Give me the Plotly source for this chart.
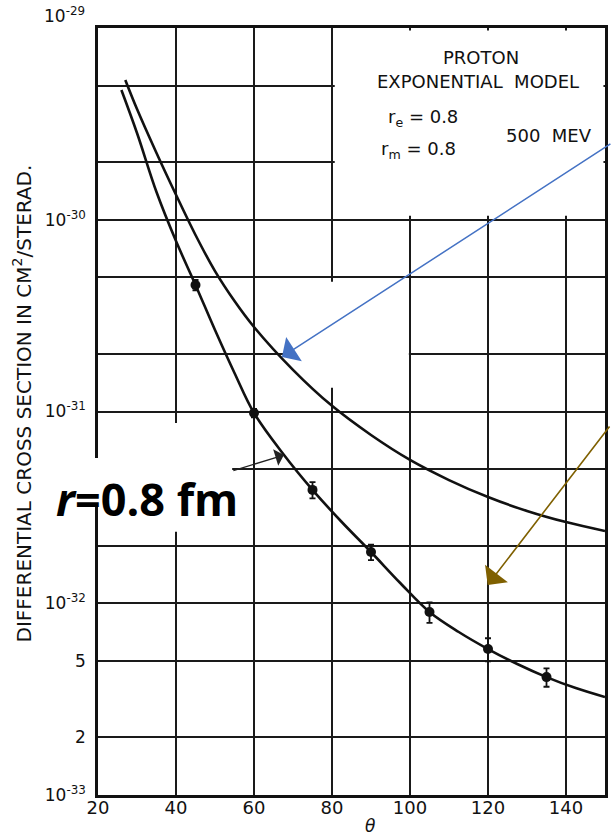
import plotly.graph_objects as go

# Measured elastic cross sections (500 MeV), with statistical errors
theta_data = [45, 60, 75, 90, 105, 120, 135]
sigma_data = [4.57e-31, 9.82e-32, 3.90e-32, 1.85e-32, 9.00e-33, 5.77e-33, 4.12e-33]
sigma_err = [0.28e-31, 0.50e-32, 0.38e-32, 0.17e-32, 1.10e-33, 0.80e-33, 0.45e-33]

# Exponential model, r_e = r_m = 0.8 fm
theta_fit = [26, 30, 35, 40, 45, 50, 55, 60, 67.5, 75, 82.5, 90, 97.5, 105,
             112.5, 120, 127.5, 135, 142.5, 150]
sigma_fit = [4.75e-30, 2.835e-30, 1.395e-30, 7.74e-31, 4.57e-31, 2.66e-31,
             1.588e-31, 9.82e-32, 6.00e-32, 3.90e-32, 2.653e-32, 1.85e-32,
             1.275e-32, 9.00e-33, 7.08e-33, 5.77e-33, 4.82e-33, 4.12e-33,
             3.61e-33, 3.24e-33]

# Point-charge curve
theta_point = [27, 30, 35, 40, 45, 50, 55, 60, 70, 80, 90, 100, 110, 120,
               130, 140, 150]
sigma_point = [5.36e-30, 3.78e-30, 2.23e-30, 1.35e-30, 8.33e-31, 5.40e-31,
               3.77e-31, 2.76e-31, 1.65e-31, 1.07e-31, 7.54e-32, 5.59e-32,
               4.39e-32, 3.58e-32, 3.03e-32, 2.65e-32, 2.38e-32]

x_ticks = [20, 40, 60, 80, 100, 120, 140]
y_ticks = [1e-33, 2e-33, 5e-33, 1e-32, 2e-32, 5e-32, 1e-31, 2e-31, 5e-31,
           1e-30, 2e-30, 5e-30, 1e-29]
y_ticktext = ["10<sup>-33</sup>", "2", "5", "10<sup>-32</sup>", "", "",
              "10<sup>-31</sup>", "", "", "10<sup>-30</sup>", "", "", ""]

W, H = 613, 839
L, R, T, B = 98, 5, 28, 44


def px(x):
    return (x - L) / (W - L - R)


def py(y):
    return (H - B - y) / (H - T - B)


FONT = "DejaVu Sans"
INK = "#111111"

fig = go.Figure()

fig.add_trace(go.Scatter(
    x=theta_point, y=sigma_point, mode="lines",
    line=dict(color=INK, width=2.6, shape="spline", smoothing=1.0),
    hoverinfo="skip"))

fig.add_trace(go.Scatter(
    x=theta_fit, y=sigma_fit, mode="lines",
    line=dict(color=INK, width=2.6, shape="spline", smoothing=1.0),
    hoverinfo="skip"))

fig.add_trace(go.Scatter(
    x=theta_data, y=sigma_data, mode="markers",
    marker=dict(color=INK, size=10, symbol="circle"),
    error_y=dict(type="data", array=sigma_err, visible=True,
                 color=INK, thickness=1.8, width=3)))

grid = dict(showgrid=True, gridcolor="#1a1a1a", gridwidth=2.2,
            showline=True, linecolor="#111111", linewidth=2.6, mirror=True,
            ticks="", zeroline=False)

fig.update_xaxes(range=[20, 150], tickvals=x_ticks,
                 ticktext=[str(v) for v in x_ticks],
                 tickfont=dict(family=FONT, size=18, color=INK),
                 ticklabelstandoff=-5, **grid)
fig.update_yaxes(type="log", range=[-33, -29], tickvals=y_ticks,
                 ticktext=y_ticktext,
                 tickfont=dict(family=FONT, size=17, color=INK),
                 ticklabelstandoff=6, **grid)

blank = dict(type="rect", xref="x", yref="y", layer="between",
             fillcolor="white", line=dict(width=0))
shapes = [
    # frame for the model description
    dict(blank, x0=80.7, x1=149.6, y0=1.05e-30, y1=9.7e-30),
    dict(blank, x0=70.8, x1=99.7, y0=1.33e-31, y1=4.75e-31),
    dict(blank, x0=20.5, x1=54.4, y0=2.36e-32, y1=8.71e-32),
    dict(type="rect", xref="paper", yref="paper", x0=px(88), x1=px(104),
         y0=py(506), y1=py(458), layer="above",
         fillcolor="white", line=dict(width=0)),
]

ann = []


def text(x, y, s, size=17, family=FONT, **kw):
    ann.append(dict(x=px(x), y=py(y), xref="paper", yref="paper", text=s,
                    xanchor="center", yanchor="middle",
                    showarrow=False, font=dict(family=family, size=size,
                                               color=INK), **kw))


text(22, 403, "DIFFERENTIAL CROSS SECTION IN CM<sup>2</sup>/STERAD.",
     size=20, textangle=-90)
text(372, 826, "<i>θ</i>", size=17)
text(64, 15, "10<sup>-29</sup>", size=17)
text(483, 57, "PROTON", size=18)
text(480, 82, "EXPONENTIAL  MODEL", size=18)
text(425, 118, "r<sub>e</sub> = 0.8", size=18)
text(420, 150, "r<sub>m</sub> = 0.8", size=18)
text(552, 135, "500  MEV", size=18)
ann.append(dict(x=px(147), y=py(498), xref="paper", yref="paper",
                xanchor="center", yanchor="middle",
                text="<b><i>r</i>=0.8 fm</b>", showarrow=False,
                font=dict(family="Open Sans", size=45, color="black")))


def arrow(hx, hy, tx, ty, color, width, size):
    ann.append(dict(x=px(hx), y=py(hy), xref="paper", yref="paper", text="",
                    showarrow=True, ax=tx - hx, ay=ty - hy,
                    arrowcolor=color, arrowwidth=width, arrowhead=1,
                    arrowsize=size, standoff=0))


arrow(283, 357, 613, 143, "#4472C4", 1.5, 3.2)
arrow(490, 585, 613, 425, "#7F6000", 1.6, 3.0)
arrow(285, 455, 233, 471, "#222222", 1.3, 2.2)

fig.update_layout(width=W, height=H,
                  margin=dict(l=L, r=R, t=T, b=B),
                  plot_bgcolor="white", paper_bgcolor="white",
                  showlegend=False, shapes=shapes, annotations=ann)

fig.write_html("out.html")
